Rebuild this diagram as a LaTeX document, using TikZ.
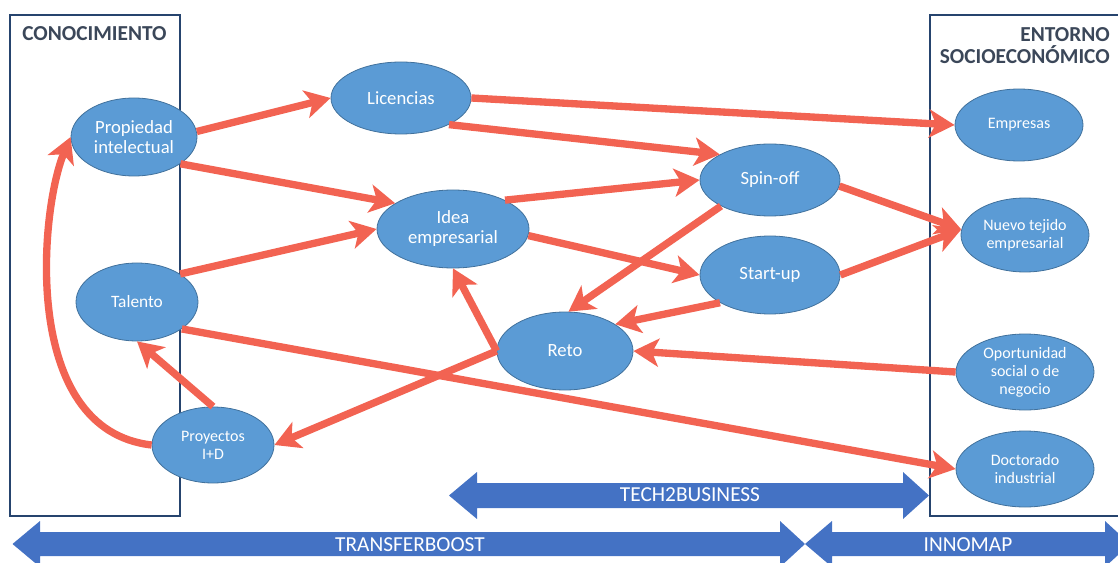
\documentclass[tikz,border=0pt]{standalone}
\usepackage{fontspec}
\setmainfont{Carlito}
\usetikzlibrary{shapes.geometric, arrows.meta}

\definecolor{azulbola}{RGB}{91,155,213}
\definecolor{bordebola}{RGB}{65,113,156}
\definecolor{rojoflecha}{RGB}{242,99,82}
\definecolor{azulbloque}{RGB}{68,114,196}
\definecolor{azulcaja}{RGB}{38,68,110}
\definecolor{grisletra}{RGB}{59,71,89}

\tikzset{
  bola/.style={ellipse, draw=bordebola, line width=0.6pt, fill=azulbola, text=white, align=center, inner sep=0pt},
  grande/.style={font=\fontsize{14}{15}\selectfont},
  media/.style={font=\fontsize{13}{14.5}\selectfont},
  chica/.style={font=\fontsize{12}{13.5}\selectfont},
  flecha/.style={draw=rojoflecha, line width=5.5pt, -{Stealth[length=19pt, width=21pt, inset=5pt]}},
  caja/.style={draw=azulcaja, line width=1.6pt},
  titulo/.style={text=grisletra, inner sep=0pt, font=\fontsize{16}{17}\selectfont\bfseries},
  bloque/.style={fill=azulbloque},
  rotulo/.style={text=white, inner sep=0pt, font=\fontsize{16}{17}\selectfont}
}

\begin{document}
\begin{tikzpicture}[x=0.75pt,y=0.75pt,yscale=-1,xscale=1]
    \useasboundingbox (0,0) rectangle (1118,563);

    %Shape: Rectangle
    \draw [caja] (10,15) rectangle (180,516);
    %Shape: Rectangle
    \draw [caja] (930,15) rectangle (1125,516);

    %Shape: Left Right Arrow
    \fill [bloque] (449,495.5) -- (477,472) -- (477,483) -- (903,483) -- (903,472) -- (929,495.5) -- (903,519) -- (903,508) -- (477,508) -- (477,519) -- cycle ;
    %Shape: Left Right Arrow
    \fill [bloque] (12.5,544) -- (40,521) -- (40,532) -- (780,532) -- (780,521) -- (805,544) -- (780,567) -- (780,556) -- (40,556) -- (40,567) -- cycle ;
    %Shape: Left Right Arrow
    \fill [bloque] (805,544) -- (832,521) -- (832,532) -- (1105,532) -- (1105,521) -- (1130,544) -- (1105,567) -- (1105,556) -- (832,556) -- (832,567) -- cycle ;

    % Text Node
    \draw (22,34) node [anchor=west, titulo] (cono) {CONOCIMIENTO};
    % Text Node
    \draw (1110,27) node [anchor=north east, titulo, align=right] (ento) {ENTORNO\\SOCIOECONÓMICO};
    % Text Node
    \draw (690,495) node [rotulo] (tech) {TECH2BUSINESS};
    % Text Node
    \draw (410,545) node [rotulo] (trans) {TRANSFERBOOST};
    % Text Node
    \draw (968,545) node [rotulo] (inno) {INNOMAP};

    %Shape: Ellipse
    \draw (134,137) node [bola, grande, minimum width=94.5pt, minimum height=58.5pt] (prop) {Propiedad\\intelectual};
    %Shape: Ellipse
    \draw (401,98) node [bola, grande, minimum width=105pt, minimum height=54pt] (lic) {Licencias};
    %Shape: Ellipse
    \draw (1019,125) node [bola, chica, minimum width=96pt, minimum height=54pt] (emp) {Empresas};
    %Shape: Ellipse
    \draw (770,180) node [bola, grande, minimum width=105pt, minimum height=54pt] (spin) {Spin-off};
    %Shape: Ellipse
    \draw (453,229) node [bola, grande, minimum width=114pt, minimum height=58.5pt] (idea) {Idea\\empresarial};
    %Shape: Ellipse
    \draw (137,302) node [bola, media, minimum width=91.5pt, minimum height=58.5pt] (tal) {Talento};
    %Shape: Ellipse
    \draw (770,275) node [bola, grande, minimum width=105pt, minimum height=58.5pt] (start) {Start-up};
    %Shape: Ellipse
    \draw (565,351) node [bola, grande, minimum width=102pt, minimum height=58.5pt] (reto) {Reto};
    %Shape: Ellipse
    \draw (213,445) node [bola, chica, minimum width=91.5pt, minimum height=57pt] (proy) {Proyectos\\I+D};
    %Shape: Ellipse
    \draw (1025,235) node [bola, chica, minimum width=96pt, minimum height=55.5pt] (nuevo) {Nuevo tejido\\empresarial};
    %Shape: Ellipse
    \draw (1025,372) node [bola, chica, minimum width=103.5pt, minimum height=57pt] (oport) {Oportunidad\\social o de\\negocio};
    %Shape: Ellipse
    \draw (1025,469) node [bola, chica, minimum width=103.5pt, minimum height=57pt] (doc) {Doctorado\\industrial};

    %Straight Lines
    \draw [flecha] (prop.5) -- (lic.west) ;
    \draw [flecha] (prop.330) -- (idea.156) ;
    \draw [flecha] (lic.east) -- (emp.west) ;
    \draw [flecha] (lic.331) -- (spin.153) ;
    \draw [flecha] (idea.29) -- (spin.west) ;
    \draw [flecha] (idea.355) -- (start.west) ;
    \draw [flecha] (tal.33) -- (idea.west) ;
    \draw [flecha] (tal.329) -- (doc.west) ;
    \draw [flecha] (spin.355) -- (nuevo.175) ;
    \draw [flecha] (start.east) -- (nuevo.175) ;
    \draw [flecha] (spin.208) -- (reto.85) ;
    \draw [flecha] (start.209) -- (reto.28) ;
    \draw [flecha] (oport.west) -- (reto.east) ;
    \draw [flecha] (reto.west) -- (idea.south) ;
    \draw [flecha] (reto.west) -- (proy.east) ;
    \draw [flecha] (proy.north) -- (tal.south) ;
    %Curve Lines
    \draw [flecha] (proy.west) .. controls (20,430) and (40,210) .. (prop.west) ;

\end{tikzpicture}
\end{document}
